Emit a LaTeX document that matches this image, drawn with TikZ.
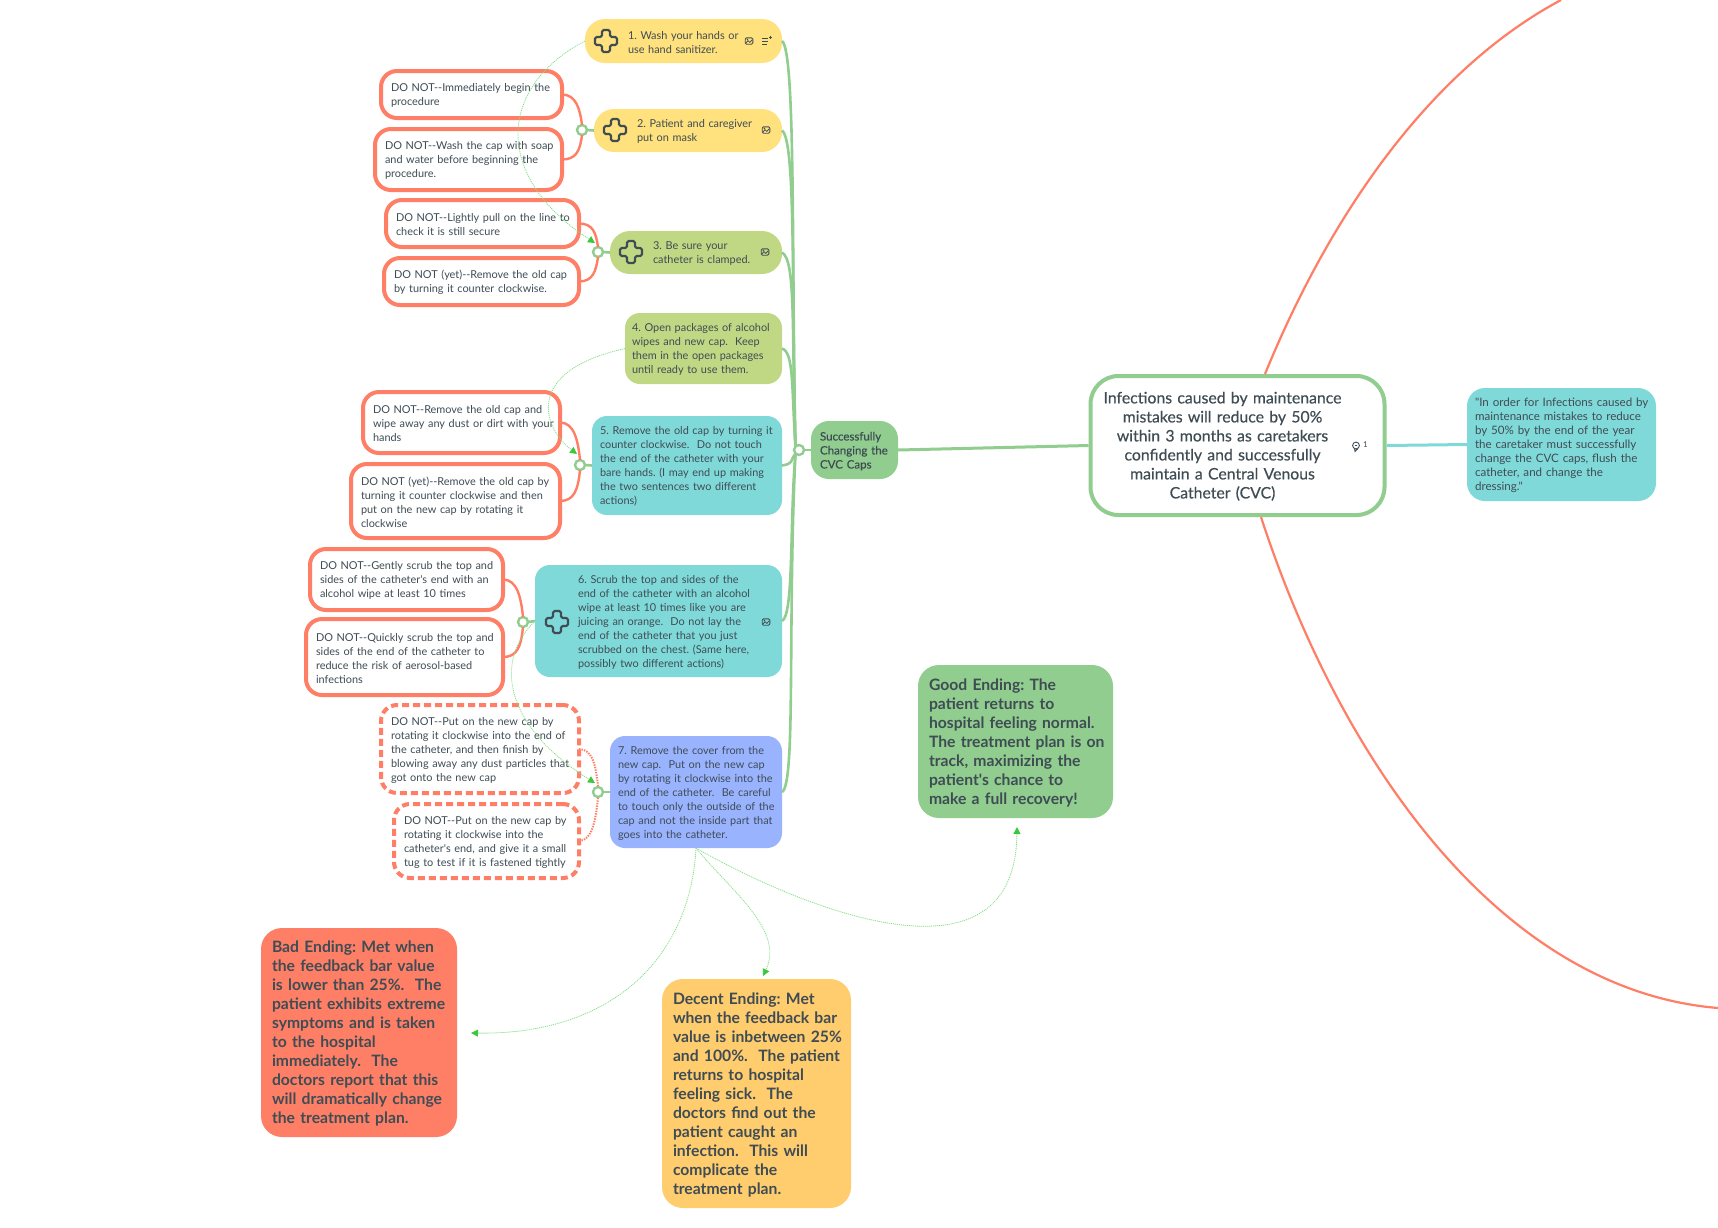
\documentclass[tikz,border=0pt]{standalone}
\usepackage{fontspec}
\setmainfont[Ligatures=TeXOff]{Lato}
\newfontfamily\medfont[FakeBold=0.4,Ligatures=TeXOff]{Lato}
\usetikzlibrary{arrows.meta}
\definecolor{ink}{HTML}{3F4C54}
\definecolor{yel}{HTML}{FFE17D}
\definecolor{lime}{HTML}{C0D884}
\definecolor{teal2}{HTML}{80D9D9}
\definecolor{blue2}{HTML}{99B3FF}
\definecolor{grn}{HTML}{90CD8E}
\definecolor{org}{HTML}{FF7F66}
\definecolor{amb}{HTML}{FFCC6E}
\definecolor{lnk}{HTML}{86E086}
\definecolor{tip}{HTML}{3CC83C}
\tikzset{
 basebox/.style={rectangle,inner sep=0pt,outer sep=0pt,align=left,text=ink,font=\fontsize{10.9}{14}\selectfont},
 filled/.style={basebox,fill=#1,rounded corners=15pt},
 pill/.style={basebox,fill=#1,rounded corners=20pt},
 donot/.style={basebox,draw=org,fill=white,line width=4pt,rounded corners=16pt},
 donotdash/.style={donot,dash pattern=on 7pt off 4pt},
 ending/.style={basebox,fill=#1,rounded corners=21pt,font=\bfseries\fontsize{15.7}{19}\selectfont},
 hub/.style={circle,draw=grn,fill=white,line width=2.4pt,minimum size=10pt,inner sep=0pt,outer sep=0pt},
 branch/.style={draw=grn,line width=2.6pt},
 stub/.style={draw=grn,line width=2.6pt},
 sub/.style={draw=org,line width=2.4pt},
 subdot/.style={draw=org,line width=2pt,dash pattern=on 1.4pt off 1.2pt},
 big/.style={draw=org,line width=2.2pt},
 xlink/.style={draw=lnk,line width=.8pt,dash pattern=on 1.1pt off .9pt,-{Triangle[length=7pt,width=7pt,color=tip]}},
}
\newcommand{\bx}[8]{%
 \pgfmathsetmacro\myW{#4-#2}\pgfmathsetmacro\myH{#5-#3}%
 \pgfmathsetmacro\myX{(#2+#4)/2}\pgfmathsetmacro\myY{(#3+#5)/2}%
 \pgfmathsetmacro\myT{\myW-2}\pgfmathsetmacro\myL{#7-1}%
 \node[#6,minimum width=\myW pt,minimum height=\myH pt,text width=\myT pt] (#1) at (\myX,\myY) {\frenchspacing\leftskip=\myL pt\rightskip=-40pt plus 1fil\relax #8\par\vspace*{-2.4pt}};}
\newcommand{\crossicon}[2]{%
 \draw[ink,line width=2.2pt,rounded corners=1.6pt,line join=round,shift={(#1,#2)}]
 (-4,-11)--(4,-11)--(4,-4)--(11,-4)--(11,4)--(4,4)--(4,11)--(-4,11)--(-4,4)--(-11,4)--(-11,-4)--(-4,-4)--cycle;}
\newcommand{\imgicon}[2]{%
 \draw[ink,line width=.9pt,rounded corners=1.2pt,shift={(#1,#2)}] (-3.8,-3.2) rectangle (3.8,3.2);
 \draw[ink,line width=.8pt,shift={(#1,#2)}] (-3,2)--(-1,-.4)--(.8,1.4)--(3,-1);
 \fill[ink,shift={(#1,#2)}] (-1.6,-1.6) circle (.8pt);}
\begin{document}
\begin{tikzpicture}[x=1pt,y=-1pt]
\clip (0,0) rectangle (1718,1227);
\fill[white] (0,0) rectangle (1718,1227);
% boxes
\bx{n1}{585}{19}{782}{63}{pill=yel}{43}{1. Wash your hands or\\use hand sanitizer.}
\bx{n2}{594}{109}{782}{152}{pill=yel}{43}{2. Patient and caregiver\\put on mask}
\bx{n3}{610}{231}{782}{274}{pill=lime}{43}{3. Be sure your\\catheter is clamped.}
\bx{n4}{625}{313}{782}{384}{filled=lime}{7}{4. Open packages of alcohol\\wipes and new cap.\ \ Keep\\them in the open packages\\until ready to use them.}
\bx{n5}{592}{416}{782}{515}{filled=teal2}{8}{5. Remove the old cap by turning it\\counter clockwise.\ \ Do not touch\\the end of the catheter with your\\bare hands. (I may end up making\\the two sentences two different\\actions)}
\bx{n6}{535}{565}{782}{677}{filled=teal2}{43}{6. Scrub the top and sides of the\\end of the catheter with an alcohol\\wipe at least 10 times like you are\\juicing an orange.\ \ Do not lay the\\end of the catheter that you just\\scrubbed on the chest. (Same here,\\possibly two different actions)}
\bx{n7}{610}{736}{782}{848}{filled=blue2}{8}{7. Remove the cover from the\\new cap.\ \ Put on the new cap\\by rotating it clockwise into the\\end of the catheter.\ \ Be careful\\to touch only the outside of the\\cap and not the inside part that\\goes into the catheter.}
\bx{succ}{811}{421}{898}{479}{filled=grn,rounded corners=18pt,font=\medfont\fontsize{11.5}{14}\selectfont}{9}{Successfully\\Changing the\\CVC Caps}
\bx{d1}{381}{71}{562}{118}{donot}{10}{DO NOT--Immediately begin the\\procedure}
\bx{d2}{375}{129}{562}{190}{donot}{10}{DO NOT--Wash the cap with soap\\and water before beginning the\\procedure.}
\bx{d3}{386}{200}{579}{247}{donot}{10}{DO NOT--Lightly pull on the line to\\check it is still secure}
\bx{d4}{384}{258}{579}{305}{donot}{10}{DO NOT (yet)--Remove the old cap\\by turning it counter clockwise.}
\bx{d5}{363}{392}{560}{453}{donot}{10}{DO NOT--Remove the old cap and\\wipe away any dust or dirt with your\\hands}
\bx{d6}{351}{464}{560}{538}{donot}{10}{DO NOT (yet)--Remove the old cap by\\turning it counter clockwise and then\\put on the new cap by rotating it\\clockwise}
\bx{d7}{310}{549}{503}{610}{donot}{10}{DO NOT--Gently scrub the top and\\sides of the catheter's end with an\\alcohol wipe at least 10 times}
\bx{d8}{306}{619}{503}{695}{donot}{10}{DO NOT--Quickly scrub the top and\\sides of the end of the catheter to\\reduce the risk of aerosol-based\\infections}
\bx{d9}{381}{705}{579}{793}{donotdash}{10}{DO NOT--Put on the new cap by\\rotating it clockwise into the end of\\the catheter, and then finish by\\blowing away any dust particles that\\got onto the new cap}
\bx{d10}{394}{804}{579}{878}{donotdash}{10}{DO NOT--Put on the new cap by\\rotating it clockwise into the\\catheter's end, and give it a small\\tug to test if it is fastened tightly}
\bx{good}{918}{665}{1113}{818}{ending=grn}{11}{Good Ending: The\\patient returns to\\hospital feeling normal.\\The treatment plan is on\\track, maximizing the\\patient's chance to\\make a full recovery!}
\bx{bad}{261}{928}{457}{1137}{ending=org}{11}{Bad Ending: Met when\\the feedback bar value\\is lower than 25\%.\ \ The\\patient exhibits extreme\\symptoms and is taken\\to the hospital\\immediately.\ \ The\\doctors report that this\\will dramatically change\\the treatment plan.}
\bx{decent}{662}{979}{851}{1208}{ending=amb}{11}{Decent Ending: Met\\when the feedback bar\\value is inbetween 25\%\\and 100\%.\ \ The patient\\returns to hospital\\feeling sick.\ \ The\\doctors find out the\\patient caught an\\infection.\ \ This will\\complicate the\\treatment plan.}
\bx{side}{1467}{388}{1656}{501}{filled=teal2,rounded corners=18pt,font=\fontsize{11.6}{14}\selectfont}{8}{"In order for Infections caused by\\maintenance mistakes to reduce\\by 50\% by the end of the year\\the caretaker must successfully\\change the CVC caps, flush the\\catheter, and change the\\dressing."}
\node[rectangle,draw=grn,fill=white,line width=4pt,rounded corners=28pt,minimum width=294pt,minimum height=139pt,inner sep=0pt,text width=290pt,align=center,text=ink,font=\medfont\fontsize{15.8}{19}\selectfont] (main) at (1237.5,445.5)
 {\leftskip=0pt plus 1fil\rightskip=30pt plus 1fil\relax Infections caused by maintenance\\mistakes will reduce by 50\%\\within 3 months as caretakers\\confidently and successfully\\maintain a Central Venous\\Catheter (CVC)\par\vspace*{-1.5pt}};
% hubs
\node[hub] (c2) at (582,130) {};
\node[hub] (c3) at (598,252) {};
\node[hub] (c5) at (580,465) {};
\node[hub] (c6) at (523,622) {};
\node[hub] (c7) at (598,792) {};
\node[hub] (c0) at (799,450) {};
% stubs
\draw[stub] (c2.east)--(n2.west);
\draw[stub] (c3.east)--(n3.west);
\draw[stub] (c5.east)--(n5.west);
\draw[stub] (c6.east)--(n6.west);
\draw[stub] (c7.east)--(n7.west);
\draw[stub] (c0.east)--(succ.west);
% green branches
\draw[branch] (n1.east) .. controls +(14,10) and +(-4,-180) .. (c0.north west);
\draw[branch] (n2.east) .. controls +(14,10) and +(-4,-160) .. (c0.north west);
\draw[branch] (n3.east) .. controls +(14,8) and +(-4,-120) .. (c0.north west);
\draw[branch] (n4.east) .. controls +(12,4) and +(-4,-60) .. (c0.north west);
\draw[branch] (n5.east) .. controls +(12,-2) and +(-6,8) .. (c0.south west);
\draw[branch] (n6.east) .. controls +(12,-6) and +(-6,70) .. (c0.south west);
\draw[branch] (n7.east) .. controls +(14,-8) and +(-8,170) .. (c0.south west);
\draw[branch,line width=3pt] (succ.east)--(main.west);
\draw[draw=teal2,line width=3pt] (main.east)--(side.west);
% big arcs
\coordinate (up) at (1265,374);
\coordinate (upe) at (1561,0);
\coordinate (lo) at (1261,517);
\coordinate (loe) at (1718,1008);
\draw[big] (up) .. controls (1330,215) and (1430,70) .. (upe);
\draw[big] (lo) .. controls (1340,760) and (1500,990) .. (loe);
% orange connectors
\draw[sub] (d1.east) .. controls +(14,0) and +(-2,-16) .. (c2.north);
\draw[sub] (d2.east) .. controls +(14,0) and +(-2,16) .. (c2.south);
\draw[sub] (d3.east) .. controls +(14,0) and +(-2,-14) .. (c3.north);
\draw[sub] (d4.east) .. controls +(14,0) and +(-2,14) .. (c3.south);
\draw[sub] (d5.east) .. controls +(14,0) and +(-2,-20) .. (c5.north);
\draw[sub] (d6.east) .. controls +(14,0) and +(-2,20) .. (c5.south);
\draw[sub] (d7.east) .. controls +(14,0) and +(-2,-20) .. (c6.north);
\draw[sub] (d8.east) .. controls +(14,0) and +(-2,20) .. (c6.south);
\draw[subdot] (d9.east) .. controls +(14,0) and +(-2,-20) .. (c7.north);
\draw[subdot] (d10.east) .. controls +(14,0) and +(-2,20) .. (c7.south);
% icons
\crossicon{606}{41}
\crossicon{615}{130}
\crossicon{631}{252}
\crossicon{557}{622}
\imgicon{749}{41}
\imgicon{766}{130}
\imgicon{765}{252}
\imgicon{766}{622}
\draw[ink,line width=.9pt] (762,38)--(768,38) (762,41)--(768,41) (762,44)--(767,44) (769,37)--(772,37) (770.5,35.5)--(770.5,38.5);
\draw[ink,line width=.9pt] (1356,445.5) circle (3.4pt) (1354.6,449)--(1355,451.5)--(1357.6,449) (1355,445.5)--(1357,445.5);
\node[basebox,font=\fontsize{8}{9}\selectfont] (cnt) at (1365.5,445) {1};
% green links
\coordinate (e3) at (595,243);
\coordinate (e5) at (577,454);
\coordinate (e7) at (595,783);
\coordinate (e8) at (471,1033);
\coordinate (e9) at (763,976);
\coordinate (e10) at (1017,827);
\draw[xlink] (n1.west) .. controls (500,85) and (490,175) .. (e3);
\draw[xlink] (n4.west) .. controls (520,372) and (545,430) .. (e5);
\draw[xlink] (n6.west) .. controls (490,665) and (510,730) .. (e7);
\draw[xlink] (n7.south) .. controls (690,960) and (610,1035) .. (e8);
\draw[xlink] (n7.south) .. controls (730,890) and (785,930) .. (e9);
\draw[xlink] (n7.south) .. controls (790,902) and (1015,1000) .. (e10);
\end{tikzpicture}
\end{document}
